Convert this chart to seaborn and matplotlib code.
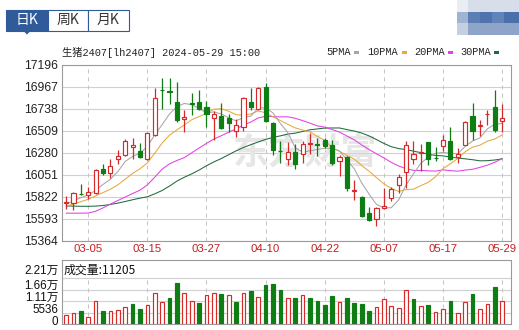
import numpy as np
import matplotlib
matplotlib.use('Agg')
import matplotlib.pyplot as plt
import seaborn as sns
from matplotlib.patches import Rectangle, Polygon

# ---------------- data ----------------
dates = ['02-29', '03-01', '03-04', '03-05', '03-06', '03-07', '03-08', '03-11', '03-12', '03-13',
         '03-14', '03-15', '03-18', '03-19', '03-20', '03-21', '03-22', '03-25', '03-26', '03-27',
         '03-28', '03-29', '04-01', '04-02', '04-03', '04-08', '04-09', '04-10', '04-11', '04-12',
         '04-15', '04-16', '04-17', '04-18', '04-19', '04-22', '04-23', '04-24', '04-25', '04-26',
         '04-29', '04-30', '05-06', '05-07', '05-08', '05-09', '05-10', '05-13', '05-14', '05-15',
         '05-16', '05-17', '05-20', '05-21', '05-22', '05-23', '05-24', '05-27', '05-28', '05-29']

opens = [15758, 15758, 15855, 15842, 15859, 16111, 16065, 16212, 16261, 16344,
         16303, 16212, 16470, 16936, 16922, 16812, 16631, 16796, 16812, 16760,
         16638, 16666, 16645, 16505, 16550, 16812, 16742, 16969, 16592, 16302,
         16212, 16289, 16271, 16372, 16372, 16411, 16358, 16191, 16236, 15882,
         15817, 15653, 15591, 15702, 15807, 15947, 16079, 16212, 16282, 16393,
         16230, 16348, 16400, 16236, 16365, 16666, 16561, 16683, 16760, 16610]
highs = [15828, 15870, 15957, 15922, 16114, 16166, 16212, 16306, 16421, 16435,
         16386, 16495, 16959, 17056, 17063, 17015, 16725, 16899, 16934, 16819,
         16714, 16795, 16680, 16631, 16864, 16952, 16969, 17004, 16603, 16400,
         16393, 16376, 16400, 16488, 16435, 16435, 16411, 16254, 16247, 15992,
         15828, 15713, 15713, 15912, 15922, 16062, 16400, 16400, 16376, 16393,
         16341, 16463, 16550, 16331, 16610, 16795, 16620, 16725, 16934, 16784]
lows = [15695, 15688, 15835, 15800, 15852, 16051, 16016, 16166, 16247, 16219,
        16229, 16205, 16456, 16742, 16784, 16603, 16498, 16673, 16725, 16550,
        16411, 16533, 16498, 16446, 16505, 16725, 16725, 16603, 16261, 16177,
        16156, 16114, 16177, 16271, 16247, 16331, 16156, 16037, 15877, 15783,
        15608, 15573, 15521, 15695, 15772, 15863, 15912, 16166, 16086, 16149,
        16191, 16296, 16201, 16177, 16358, 16411, 16456, 16575, 16498, 16498]
closes = [15762, 15863, 15850, 15866, 16097, 16072, 16139, 16243, 16400, 16358,
          16240, 16488, 16854, 16930, 16917, 16620, 16655, 16790, 16732, 16680,
          16680, 16543, 16596, 16568, 16854, 16753, 16959, 16610, 16306, 16296,
          16289, 16166, 16376, 16380, 16365, 16348, 16173, 16236, 15912, 15890,
          15619, 15584, 15702, 15730, 15898, 16030, 16365, 16271, 16289, 16219,
          16225, 16418, 16219, 16271, 16603, 16505, 16575, 16690, 16515, 16645]

ma5 = [15745, 15778, 15812, 15840, 15888, 15950, 16005, 16083, 16190, 16242,
       16276, 16346, 16468, 16574, 16686, 16762, 16795, 16782, 16743, 16695,
       16707, 16685, 16646, 16613, 16648, 16663, 16746, 16749, 16696, 16585,
       16492, 16333, 16287, 16301, 16315, 16327, 16328, 16300, 16207, 16112,
       15966, 15848, 15741, 15705, 15707, 15789, 15945, 16059, 16171, 16235,
       16274, 16284, 16274, 16270, 16347, 16403, 16435, 16529, 16578, 16586]
ma10 = [15725, 15745, 15770, 15795, 15830, 15865, 15900, 15945, 16005, 16065,
        16113, 16175, 16276, 16382, 16464, 16519, 16571, 16625, 16658, 16691,
        16735, 16740, 16714, 16678, 16672, 16685, 16716, 16698, 16655, 16617,
        16577, 16540, 16518, 16499, 16450, 16410, 16331, 16294, 16254, 16214,
        16147, 16088, 16021, 15956, 15909, 15877, 15897, 15900, 15938, 15971,
        16031, 16115, 16166, 16221, 16291, 16339, 16360, 16401, 16424, 16467]
ma20 = [15650, 15650, 15650, 15652, 15670, 15705, 15745, 15782, 15818, 15855,
        15890, 15945, 16025, 16110, 16165, 16200, 16230, 16280, 16330, 16378,
        16424, 16458, 16495, 16530, 16568, 16602, 16643, 16661, 16657, 16654,
        16656, 16640, 16616, 16589, 16561, 16547, 16523, 16496, 16455, 16415,
        16362, 16314, 16269, 16227, 16180, 16143, 16114, 16097, 16096, 16092,
        16089, 16102, 16094, 16088, 16100, 16108, 16128, 16151, 16181, 16219]
ma30 = [15725, 15724, 15722, 15722, 15724, 15730, 15741, 15755, 15772, 15790,
        15807, 15821, 15852, 15887, 15933, 15985, 16025, 16060, 16100, 16145,
        16185, 16220, 16260, 16300, 16335, 16365, 16393, 16420, 16440, 16457,
        16475, 16485, 16503, 16520, 16529, 16538, 16539, 16539, 16522, 16507,
        16486, 16456, 16418, 16378, 16344, 16324, 16314, 16297, 16282, 16267,
        16252, 16248, 16235, 16225, 16217, 16208, 16196, 16198, 16205, 16217]

volumes = [4430, 5220, 6330, 3640, 11070, 6330, 6330, 6800, 8070, 9650,
           7280, 9180, 15190, 10440, 12660, 19930, 15190, 11070, 9970, 13920,
           15190, 14400, 13920, 10440, 15190, 15820, 13000, 18670, 19140, 16290,
           12810, 12810, 14240, 12340, 11070, 9180, 13450, 10440, 12340, 9970,
           9490, 6330, 8070, 11870, 8700, 7590, 16290, 12020, 8700, 9180,
           5700, 7280, 11070, 5220, 10440, 14400, 7280, 9490, 17880, 11205]
vol_up = [1, 1, 0, 1, 1, 0, 1, 1, 1, 0,
          0, 1, 1, 1, 0, 0, 1, 1, 0, 1,
          1, 0, 1, 0, 1, 0, 1, 0, 0, 0,
          1, 0, 1, 0, 0, 0, 0, 1, 0, 0,
          0, 0, 1, 1, 1, 1, 1, 0, 1, 0,
          1, 1, 0, 1, 1, 0, 1, 1, 0, 1]

price_ticks = [15364, 15593, 15822, 16051, 16280, 16509, 16738, 16967, 17196]
vol_ticks = [0, 5536, 11072, 16608, 22144]
vol_tick_labels = ['0', '5536', '1.11万', '1.66万', '2.21万']
date_ticks = ['03-05', '03-15', '03-27', '04-10', '04-22', '05-07', '05-17', '05-29']
title = '生猪2407[lh2407] 2024-05-29 15:00'
legend_names = ['5PMA', '10PMA', '20PMA', '30PMA']
tabs = ['日K', '周K', '月K']
vol_header = '成交量:11205'
watermark = '东方财富'

# ---------------- style ----------------
sns.set_style('white')
plt.rcParams['font.family'] = ['Liberation Sans', 'Noto Sans CJK SC', 'DejaVu Sans']

RED = '#d42a2a'
GREEN = '#0d7d14'
MA_COLORS = ['#a6a6a6', '#e6a93a', '#e43fe4', '#1f6a3e']
GRID = '#d0d0d0'
VGRID = '#c6c6c6'
SPINE = '#9a9a9a'
BLUE = '#2f5b9b'

W, H = 519, 330
fig = plt.figure(figsize=(W / 100, H / 100), dpi=100)
fig.patch.set_facecolor('white')


def fx(px):
    return px / W


def fy(py):
    return 1 - py / H


L, R = 62, 511
T1, B1 = 65, 240.6
T2, B2 = 260, 324.3
ax = fig.add_axes([fx(L), fy(B1), (R - L) / W, (B1 - T1) / H])
axv = fig.add_axes([fx(L), fy(B2), (R - L) / W, (B2 - T2) / H])

n = len(dates)
x = np.arange(n)
o = np.array(opens, float)
c = np.array(closes, float)
h = np.array(highs, float)
lo = np.array(lows, float)
up = c >= o
tick_idx = [dates.index(d) for d in date_ticks]
XL = (-0.55, 60.2)

# ---------------- price panel ----------------
ax.set_xlim(*XL)
ax.set_ylim(price_ticks[0], price_ticks[-1])
ax.set_yticks(price_ticks)
ax.set_yticklabels([str(t) for t in price_ticks])
ax.set_xticks(tick_idx)
ax.set_xticklabels(date_ticks)
ax.grid(False)
for t in price_ticks:
    ax.axhline(t, color=GRID, lw=0.8, zorder=0.5)
for ti in tick_idx:
    ax.axvline(ti, color=VGRID, lw=0.75, linestyle=(0, (3.84, 3.84)), zorder=0.6)

ax.text(fx(305), fy(153), watermark, transform=fig.transFigure, ha='center', va='center',
        fontsize=26, fontweight='bold', color='#e6e6e6', zorder=0.7,
        family=['Noto Sans CJK SC'])

# moving averages
for vals, col in zip([ma30, ma20, ma10, ma5], MA_COLORS[::-1]):
    sns.lineplot(x=x, y=vals, ax=ax, color=col, linewidth=0.75, zorder=2)

# candles
wick_cols = np.where(up, RED, GREEN)
ax.vlines(x, lo, h, colors=wick_cols, linewidth=0.9, zorder=3)
bh = c - o
bh = np.where(np.abs(bh) < 2, np.where(up, 2, -2), bh)
ax.bar(x[up], bh[up], bottom=o[up], width=0.56, facecolor='white',
       edgecolor=RED, linewidth=0.85, zorder=4)
ax.bar(x[~up], bh[~up], bottom=o[~up], width=0.56, facecolor=GREEN,
       edgecolor=GREEN, linewidth=0.85, zorder=4)

ax.tick_params(axis='both', length=0)
ax.tick_params(axis='y', pad=2.7, labelsize=8.7, labelcolor='#222222')
ax.tick_params(axis='x', pad=2.6, labelsize=8.2, labelcolor='#c02020')
for sp in ax.spines.values():
    sp.set_color(SPINE)
    sp.set_linewidth(0.8)
    sp.set_visible(True)
ax.set_xlabel('')
ax.set_ylabel('')

# ---------------- volume panel ----------------
VTOP = 30754
axv.set_xlim(*XL)
axv.set_ylim(0, VTOP)
axv.set_xticks([])
axv.set_yticks([])
axv.grid(False)
for t in vol_ticks:
    axv.axhline(t, color=GRID, lw=0.8, zorder=0.5)
axv.vlines(tick_idx, 0, vol_ticks[-1], colors=VGRID, linewidth=0.75,
           linestyles=[(0, (3.84, 3.84))], zorder=0.6)
vu = np.array(vol_up, bool)
vv = np.array(volumes, float)
axv.bar(x[vu], vv[vu], width=0.5, facecolor='white', edgecolor=RED, linewidth=0.85, zorder=3)
axv.bar(x[~vu], vv[~vu], width=0.5, facecolor=GREEN, edgecolor=GREEN, linewidth=0.85, zorder=3)
for sp in axv.spines.values():
    sp.set_color(SPINE)
    sp.set_linewidth(0.8)
    sp.set_visible(True)
axv.text(fx(63.5), fy(270), vol_header, transform=fig.transFigure, ha='left', va='center',
         fontsize=8.6, color='#111111', family=['Noto Sans CJK SC'])

# volume tick labels (placed at each gridline, slightly raised as in the source)
vol_label_y = [322, 310, 298, 286, 271]
for lab, py in zip(vol_tick_labels, vol_label_y):
    fig.text(fx(58.5), fy(py), lab, ha='right', va='center', fontsize=8.4,
             color='#111111', family=['Liberation Sans', 'Noto Sans CJK SC'])

# ---------------- header: title & legend ----------------
fig.text(fx(62), fy(52), title, ha='left', va='center', fontsize=7.4, color='#222222',
         family=['Liberation Mono', 'Noto Sans CJK SC'])
leg_x = [326.7, 367.7, 414, 460]
sq_x = [354, 401.7, 448, 494]
for name, lx, sx, col in zip(legend_names, leg_x, sq_x, MA_COLORS):
    fig.text(fx(lx), fy(52), name, ha='left', va='center', fontsize=7.4, color='#222222',
             family=['Liberation Mono'])
    fig.add_artist(Rectangle((fx(sx), fy(53.5)), 5 / W, 3 / H, transform=fig.transFigure,
                             facecolor=col, edgecolor='none'))

# ---------------- tabs ----------------
tab_x = [(6, 48), (48, 88), (88, 129)]
for i, (name, (x0, x1)) in enumerate(zip(tabs, tab_x)):
    sel = i == 0
    fig.add_artist(Rectangle((fx(x0), fy(30.5)), (x1 - x0) / W, 21 / H, transform=fig.transFigure,
                             facecolor=BLUE if sel else 'white', edgecolor=BLUE, linewidth=0.8))
    fig.text(fx((x0 + x1) / 2), fy(20), name, ha='center', va='center', fontsize=10,
             color='white' if sel else '#333333', family=['Noto Sans CJK SC'])
fig.add_artist(Polygon([(fx(23), fy(30.5)), (fx(31), fy(30.5)), (fx(27), fy(34.5))], closed=True,
                       transform=fig.transFigure, facecolor=BLUE, edgecolor='none'))

# blurred logo blocks (top right)
blocks = [
    (457, 0, 11, 12, '#e9edf4'), (468, 0, 51, 12, '#d7dde9'),
    (457, 12, 11, 11, '#9fb3d3'), (468, 12, 12, 11, '#5b7eb4'), (480, 12, 12, 11, '#4f74ad'),
    (492, 12, 12, 11, '#6283b7'), (504, 12, 15, 11, '#4a70ab'),
    (457, 23, 11, 12, '#c4d0e2'), (468, 23, 51, 12, '#8ea5c9'),
]
for bx, by, bw, bhh, col in blocks:
    fig.add_artist(Rectangle((fx(bx), fy(by + bhh)), bw / W, bhh / H, transform=fig.transFigure,
                             facecolor=col, edgecolor='none'))

fig.savefig('out.png', dpi=100, facecolor='white')
